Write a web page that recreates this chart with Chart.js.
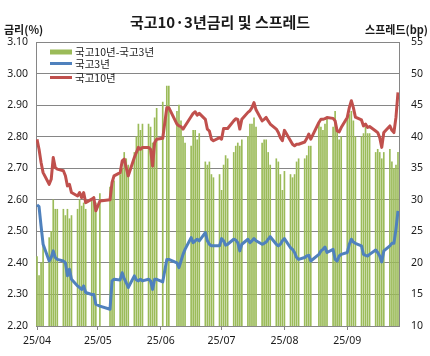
<!DOCTYPE html>
<html><head><meta charset="utf-8">
<script src="https://cdn.jsdelivr.net/npm/chart.js@4.4.1/dist/chart.umd.min.js"></script>
<style>html,body{margin:0;padding:0;background:#fff}#wrap{width:430px;height:356px;position:relative}</style>
</head><body><div id="wrap"><canvas id="c" width="430" height="356"></canvas></div>
<script>
// ---- data ----
const dates = [
 '2025-04-01','2025-04-02','2025-04-03','2025-04-04','2025-04-07','2025-04-08','2025-04-09','2025-04-10','2025-04-11','2025-04-14','2025-04-15','2025-04-16','2025-04-17','2025-04-18','2025-04-21','2025-04-22','2025-04-23','2025-04-24','2025-04-25','2025-04-28','2025-04-29','2025-04-30',
 '2025-05-02','2025-05-07','2025-05-08','2025-05-09','2025-05-12','2025-05-13','2025-05-14','2025-05-15','2025-05-16','2025-05-19','2025-05-20','2025-05-21','2025-05-22','2025-05-23','2025-05-26','2025-05-27','2025-05-28','2025-05-29','2025-05-30',
 '2025-06-02','2025-06-04','2025-06-05','2025-06-09','2025-06-10','2025-06-11','2025-06-12','2025-06-13','2025-06-16','2025-06-17','2025-06-18','2025-06-19','2025-06-20','2025-06-23','2025-06-24','2025-06-25','2025-06-26','2025-06-27','2025-06-30',
 '2025-07-01','2025-07-02','2025-07-03','2025-07-04','2025-07-07','2025-07-08','2025-07-09','2025-07-10','2025-07-11','2025-07-14','2025-07-15','2025-07-16','2025-07-17','2025-07-18','2025-07-21','2025-07-22','2025-07-23','2025-07-24','2025-07-25','2025-07-28','2025-07-29','2025-07-30','2025-07-31',
 '2025-08-01','2025-08-04','2025-08-05','2025-08-06','2025-08-07','2025-08-08','2025-08-11','2025-08-12','2025-08-13','2025-08-14','2025-08-18','2025-08-19','2025-08-20','2025-08-21','2025-08-22','2025-08-25','2025-08-26','2025-08-27','2025-08-28','2025-08-29',
 '2025-09-01','2025-09-02','2025-09-03','2025-09-04','2025-09-05','2025-09-08','2025-09-09','2025-09-10','2025-09-11','2025-09-12','2025-09-15','2025-09-16','2025-09-17','2025-09-18','2025-09-19','2025-09-22','2025-09-23','2025-09-24','2025-09-25','2025-09-26'
];
const yield10 = [
 2.792,2.760,2.718,2.686,2.649,2.665,2.734,2.702,2.697,2.692,2.676,2.644,2.649,2.623,2.612,2.623,2.607,2.623,2.591,2.602,2.607,2.565,
 2.596,2.600,2.655,2.676,2.686,2.723,2.729,2.702,2.676,2.734,2.750,2.766,2.760,2.766,2.766,2.760,2.707,2.781,2.792,
 2.795,2.892,2.892,2.840,2.834,2.832,2.824,2.834,2.864,2.874,2.879,2.868,2.874,2.855,2.824,2.818,2.792,2.787,2.797,
 2.792,2.826,2.826,2.826,2.850,2.857,2.855,2.824,2.855,2.877,2.882,2.892,2.908,2.885,2.850,2.855,2.861,2.850,2.840,2.824,2.813,2.797,2.787,
 2.820,2.787,2.776,2.771,2.776,2.776,2.783,2.794,2.808,2.792,2.845,2.855,2.855,2.857,2.861,2.858,2.850,2.818,2.815,2.829,
 2.861,2.892,2.914,2.892,2.862,2.853,2.834,2.840,2.829,2.832,2.818,2.813,2.797,2.766,2.813,2.834,2.820,2.813,2.861,2.940
];
const yield3 = [
 2.584,2.578,2.517,2.459,2.406,2.417,2.438,2.417,2.411,2.406,2.400,2.359,2.380,2.348,2.327,2.322,2.316,2.327,2.306,2.300,2.300,2.269,
 2.263,2.253,2.343,2.348,2.346,2.369,2.350,2.337,2.322,2.359,2.346,2.343,2.348,2.343,2.348,2.343,2.316,2.348,2.348,
 2.340,2.411,2.411,2.400,2.385,2.406,2.427,2.443,2.480,2.464,2.470,2.475,2.470,2.496,2.470,2.459,2.454,2.454,2.454,
 2.477,2.470,2.456,2.459,2.475,2.472,2.464,2.438,2.459,2.475,2.464,2.470,2.477,2.470,2.459,2.462,2.466,2.475,2.483,2.459,2.454,2.459,2.470,
 2.477,2.448,2.443,2.433,2.417,2.411,2.417,2.422,2.424,2.406,2.427,2.438,2.443,2.450,2.433,2.443,2.411,2.406,2.422,2.427,
 2.433,2.459,2.475,2.466,2.462,2.454,2.427,2.424,2.422,2.427,2.441,2.433,2.422,2.403,2.438,2.454,2.462,2.462,2.507,2.565
];
const spread = [
 21,18,20,23,24,25,30,28.5,28.5,28.5,27.5,28.5,27,27.5,28.5,30,29,29.5,28.5,30,30.5,29.5,
 31,32,33,33,34,35,37.5,36.5,35.5,37.5,40,42,41,42,42,41.5,39,43,44.5,
 45.5,48,48,44,45,42.5,40,39,38.5,41,41,39.5,40.5,36,35.5,36,34,33.5,34,
 31.5,35.5,37,36.5,37.5,38.5,39,38.5,39.5,40,42,42,43,41.5,39,39.5,39.5,37.5,35.5,36.5,36,34,31.5,
 34.5,34,33.5,34,36,36.5,36.5,37,38.5,38.5,42,41.5,41,42,43,41.5,44,41,39.5,40,
 43,43.5,44,42.5,40,40,40.5,41.5,40.5,40.5,37.5,38,37.5,36.5,37.5,38,36,35,35.5,37.5
];
const monthTicks = ['2025-04-01','2025-05-01','2025-06-01','2025-07-01','2025-08-01','2025-09-01'];
const monthLabels = ['25/04','25/05','25/06','25/07','25/08','25/09'];
const leftTicks = [2.20,2.30,2.40,2.50,2.60,2.70,2.80,2.90,3.00,3.10];
const rightTicks = [10,15,20,25,30,35,40,45,50,55];
const seriesNames = ['국고10년-국고3년','국고3년','국고10년'];
const titleText = '국고10·3년금리 및 스프레드';
const leftTitle = '금리(%)';
const rightTitle = '스프레드(bp)';

// ---- helpers ----
const base = Date.UTC(2025,3,1);
const dayIdx = s => { const p = s.split('-').map(Number); return Math.round((Date.UTC(p[0],p[1]-1,p[2]) - base)/86400000); };
const lastDay = dayIdx(dates[dates.length-1]);
const colors = { bar:'#9BBB59', y3:'#4F81BD', y10:'#C0504D', grid:'#868686', text:'#1a1a1a' };
const tickFont = { family:"'Noto Sans','Noto Sans CJK KR',sans-serif", size:10.5 };

const decor = {
  id:'decor',
  afterDraw(chart){
    const ctx = chart.ctx;
    ctx.save();
    ctx.fillStyle = colors.text;
    ctx.textBaseline = 'middle';
    ctx.font = "bold 15px 'Noto Sans CJK KR', sans-serif";
    ctx.textAlign = 'center';
    ctx.fillText(titleText, 220, 22);
    ctx.font = "bold 11px 'Noto Sans CJK KR', sans-serif";
    ctx.textAlign = 'left';
    ctx.fillText(leftTitle, 4, 30);
    ctx.textAlign = 'right';
    ctx.fillText(rightTitle, 428, 30);
    // legend
    const lx = chart.chartArea.left + 14;
    const items = [
      {t:seriesNames[0], kind:'box', c:colors.bar, y:52},
      {t:seriesNames[1], kind:'line', c:colors.y3, y:63.5},
      {t:seriesNames[2], kind:'line', c:colors.y10, y:77.5}
    ];
    ctx.font = "10.5px 'Noto Sans CJK KR', sans-serif";
    ctx.textAlign = 'left';
    items.forEach(it=>{
      if(it.kind==='box'){ ctx.fillStyle = it.c; ctx.fillRect(lx, it.y-2.5, 22, 5); }
      else { ctx.strokeStyle = it.c; ctx.lineWidth = 3; ctx.beginPath(); ctx.moveTo(lx, it.y); ctx.lineTo(lx+22, it.y); ctx.stroke(); }
      ctx.fillStyle = colors.text;
      ctx.fillText(it.t, lx+25, it.y+0.5);
    });
    ctx.restore();
  }
};

new Chart(document.getElementById('c'), {
  type:'bar',
  data:{
    datasets:[
      { type:'bar', label:seriesNames[0], data:dates.map((d,i)=>({x:dayIdx(d), y:spread[i]})), yAxisID:'y2',
        backgroundColor:colors.bar, barThickness:1, order:3 },
      { type:'line', label:seriesNames[1], data:dates.map((d,i)=>({x:dayIdx(d), y:yield3[i]})), yAxisID:'y',
        borderColor:colors.y3, borderWidth:3, pointRadius:0, tension:0, order:2, borderJoinStyle:'round' },
      { type:'line', label:seriesNames[2], data:dates.map((d,i)=>({x:dayIdx(d), y:yield10[i]})), yAxisID:'y',
        borderColor:colors.y10, borderWidth:3, pointRadius:0, tension:0, order:1, borderJoinStyle:'round' }
    ]
  },
  options:{
    responsive:false, animation:false, devicePixelRatio:1,
    layout:{ padding:{ top:42, left:0, right:0, bottom:0 } },
    plugins:{ legend:{display:false}, tooltip:{enabled:false}, title:{display:false} },
    scales:{
      x:{ type:'linear', offset:false, min:-0.5, max:lastDay+0.5,
        afterBuildTicks:s=>{ s.ticks = monthTicks.map(t=>({value:dayIdx(t)})); },
        ticks:{ autoSkip:false, maxRotation:0, minRotation:0, font:tickFont, color:colors.text, padding:5,
          callback:(v,i)=>monthLabels[i] },
        grid:{ display:true, drawOnChartArea:false, drawTicks:true, tickLength:4, color:colors.grid, offset:false },
        border:{ color:colors.grid },
        afterFit:s=>{ s.height = 30; } },
      y:{ position:'left', min:leftTicks[0], max:leftTicks[leftTicks.length-1],
        afterBuildTicks:s=>{ s.ticks = leftTicks.map(v=>({value:v})); },
        ticks:{ font:tickFont, color:colors.text, padding:8, callback:v=>Number(v).toFixed(2) },
        grid:{ color:colors.grid, drawTicks:false, lineWidth:1 },
        border:{ color:colors.grid },
        afterFit:s=>{ s.width = 36; } },
      y2:{ position:'right', min:rightTicks[0], max:rightTicks[rightTicks.length-1],
        afterBuildTicks:s=>{ s.ticks = rightTicks.map(v=>({value:v})); },
        ticks:{ font:tickFont, color:colors.text, padding:12, callback:v=>String(v) },
        grid:{ drawOnChartArea:false, drawTicks:false },
        border:{ color:colors.grid },
        afterFit:s=>{ s.width = 31; } }
    }
  },
  plugins:[decor]
});
</script>
</body></html>
